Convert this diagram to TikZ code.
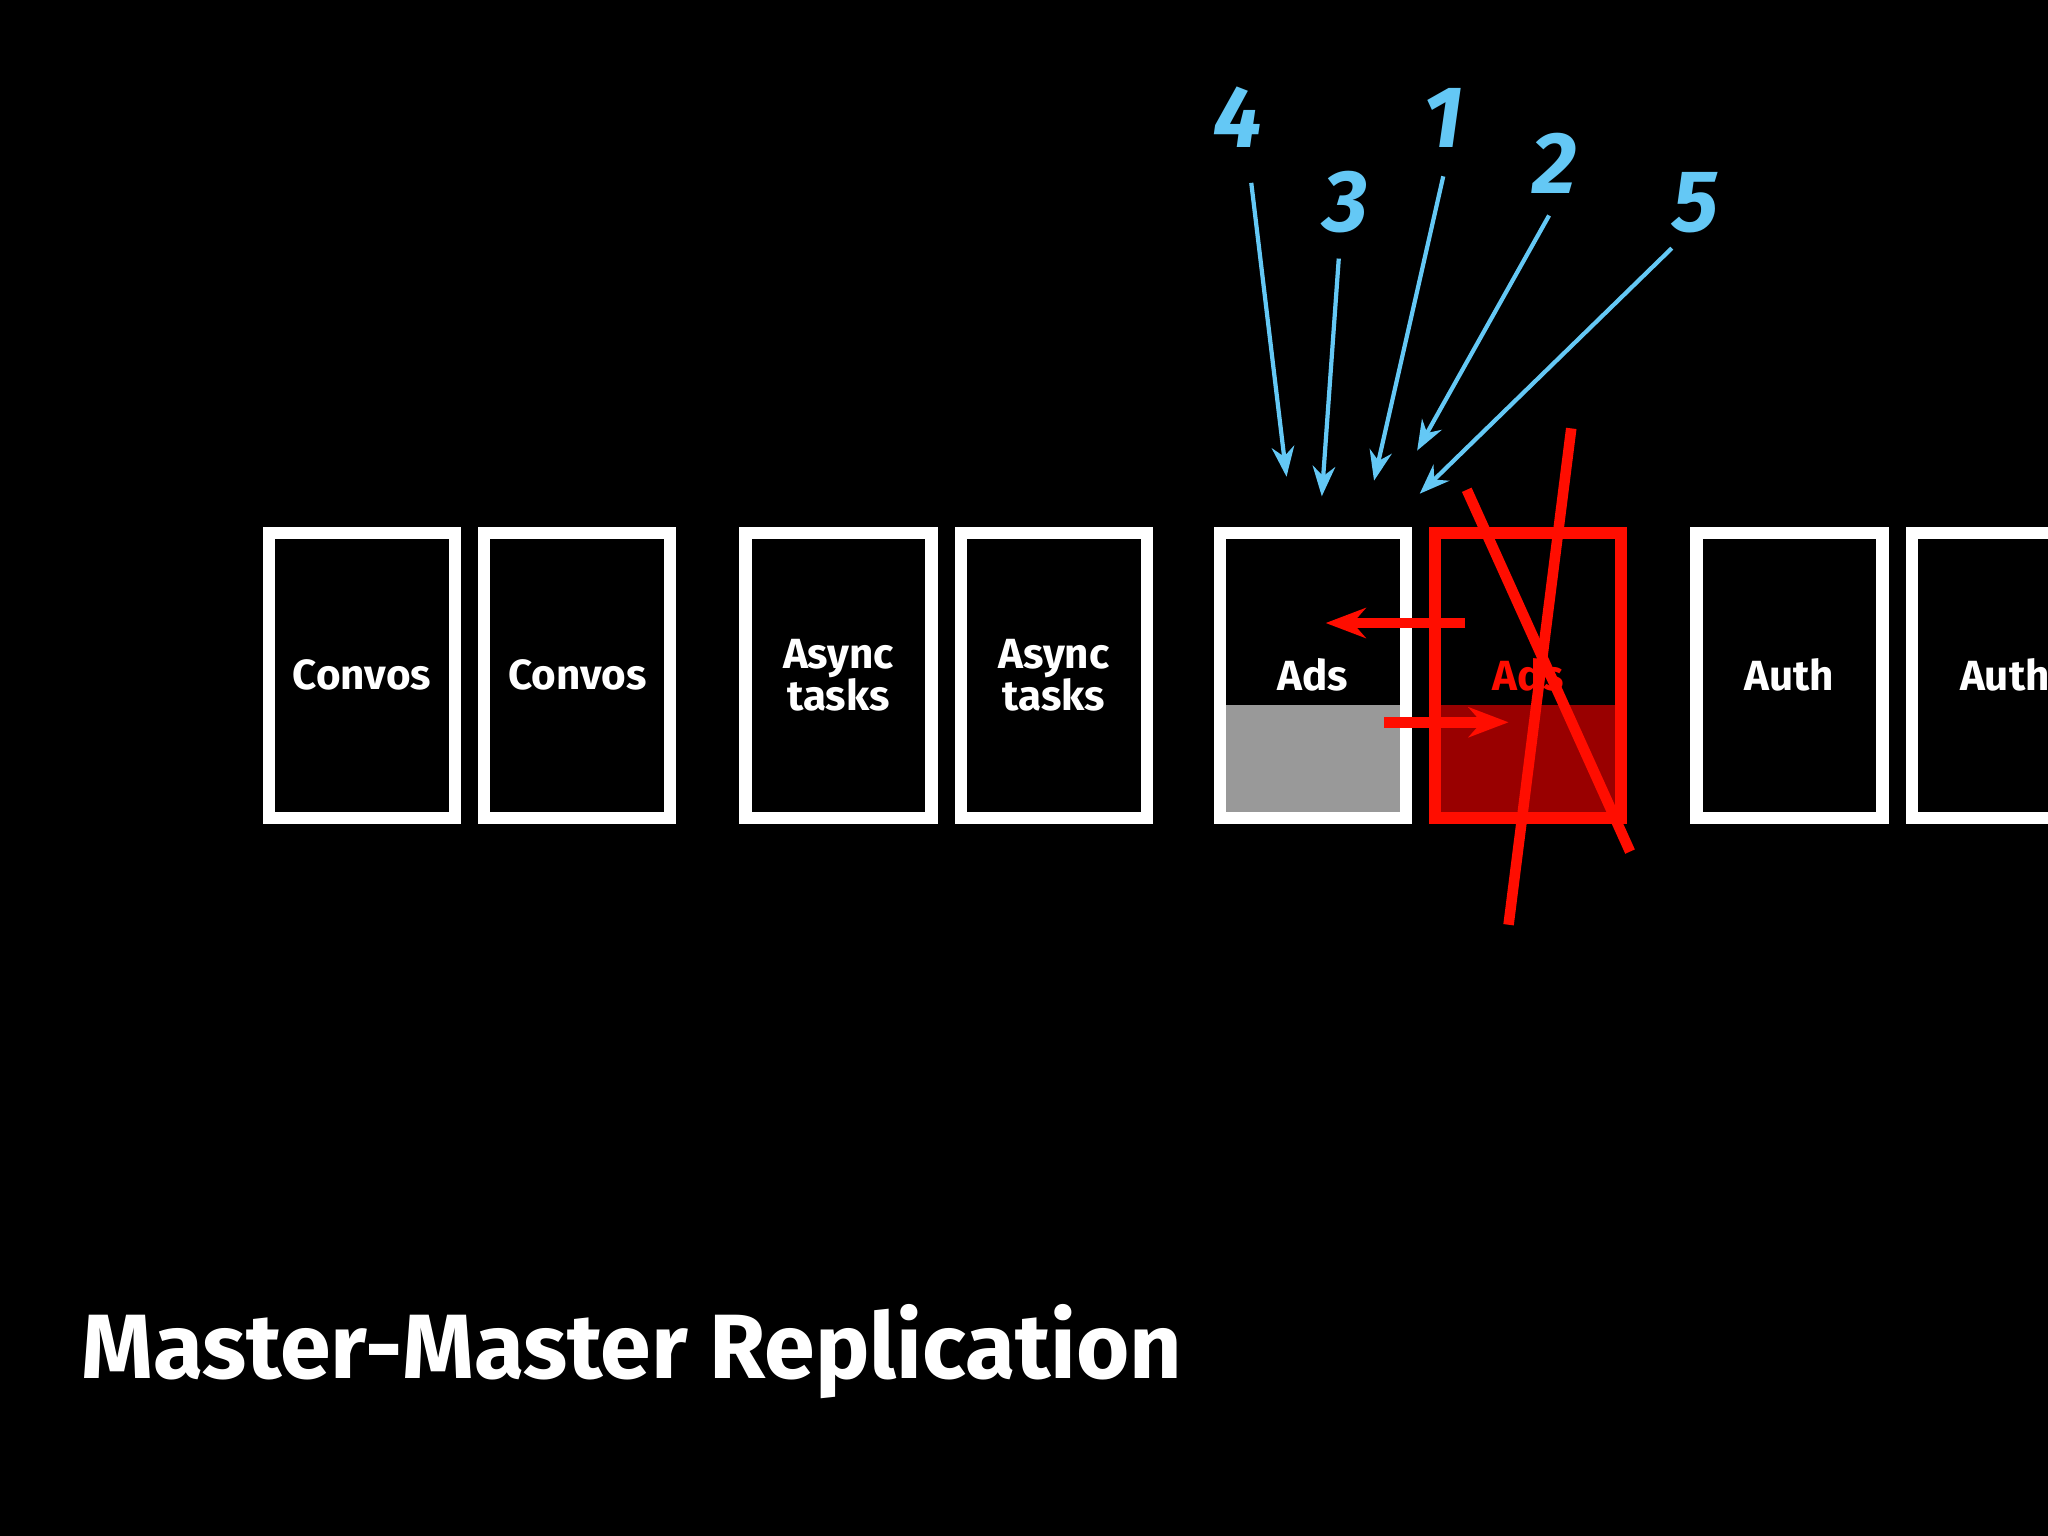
\documentclass[tikz,border=0pt]{standalone}
\usepackage{fontspec}
\setmainfont{Fira Sans}
\usetikzlibrary{arrows.meta}
\definecolor{stepblue}{RGB}{100,200,245}
\tikzset{shard/.style = {draw=white, line width=3.5pt, minimum width=1.86cm, minimum height=2.85cm, text=white, font=\bfseries\large, align=center, inner sep=0pt},
  stepnum/.style = {text=stepblue, font=\bfseries\itshape\Huge},
  arrow/.style = {draw=stepblue, line width=1.2pt, -{Stealth[length=3mm]}},
  redline/.style = {draw=red!90!orange, line width=3pt}}
\begin{document}
\begin{tikzpicture}[x=0.01306cm, y=-0.01306cm]
\fill[black] (0,0) rectangle (1568,1176);
\clip (0,0) rectangle (1568,1176);
%---------------------------------SHARDS
\fill[gray!80] (935,540) rectangle (1076,625);
\fill[red!60!black] (1100,540) rectangle (1241,625);
\node (c1) [shard] at (277,517) {Convos};
\node (c2) [shard] at (442,517) {Convos};
\node (a1) [shard] at (642,517) {Async\\[-2pt]tasks};
\node (a2) [shard] at (807,517) {Async\\[-2pt]tasks};
\node (ads) [shard] at (1005,517) {Ads};
\node (adsr) [shard, draw=red!90!orange, text=red!90!orange] at (1170,517) {Ads};
\node (u1) [shard] at (1370,517) {Auth};
\node (u2) [shard] at (1535,517) {Auth};
%---------------------------------STEPS
\node (s4) [stepnum] at (948,90) {4};
\node (s3) [stepnum] at (1030,155) {3};
\node (s1) [stepnum] at (1105,90) {1};
\node (s2) [stepnum] at (1190,125) {2};
\node (s5) [stepnum] at (1298,155) {5};
\coordinate (t4) at (985,365);
\coordinate (t3) at (1012,380);
\coordinate (t1) at (1052,368);
\coordinate (t2) at (1085,345);
\coordinate (t5) at (1087,378);
\draw [arrow] (958,140) -- (t4);
\draw [arrow] (1025,198) -- (t3);
\draw [arrow] (1105,135) -- (t1);
\draw [arrow] (1186,165) -- (t2);
\draw [arrow] (1280,190) -- (t5);
%---------------------------------FAILOVER
\draw [redline] (1203,328) -- (1155,708);
\draw [redline] (1123,375) -- (1248,652);
\draw [redline, -{Stealth[length=4mm]}] (1122,477) -- (1015,477);
\draw [redline, -{Stealth[length=4mm]}] (1060,553) -- (1155,553);
\node (title) [anchor=west, inner sep=0pt, text=white, font=\bfseries\fontsize{26}{30}\selectfont] at (62,1035) {Master-Master Replication};
\end{tikzpicture}
\end{document}
